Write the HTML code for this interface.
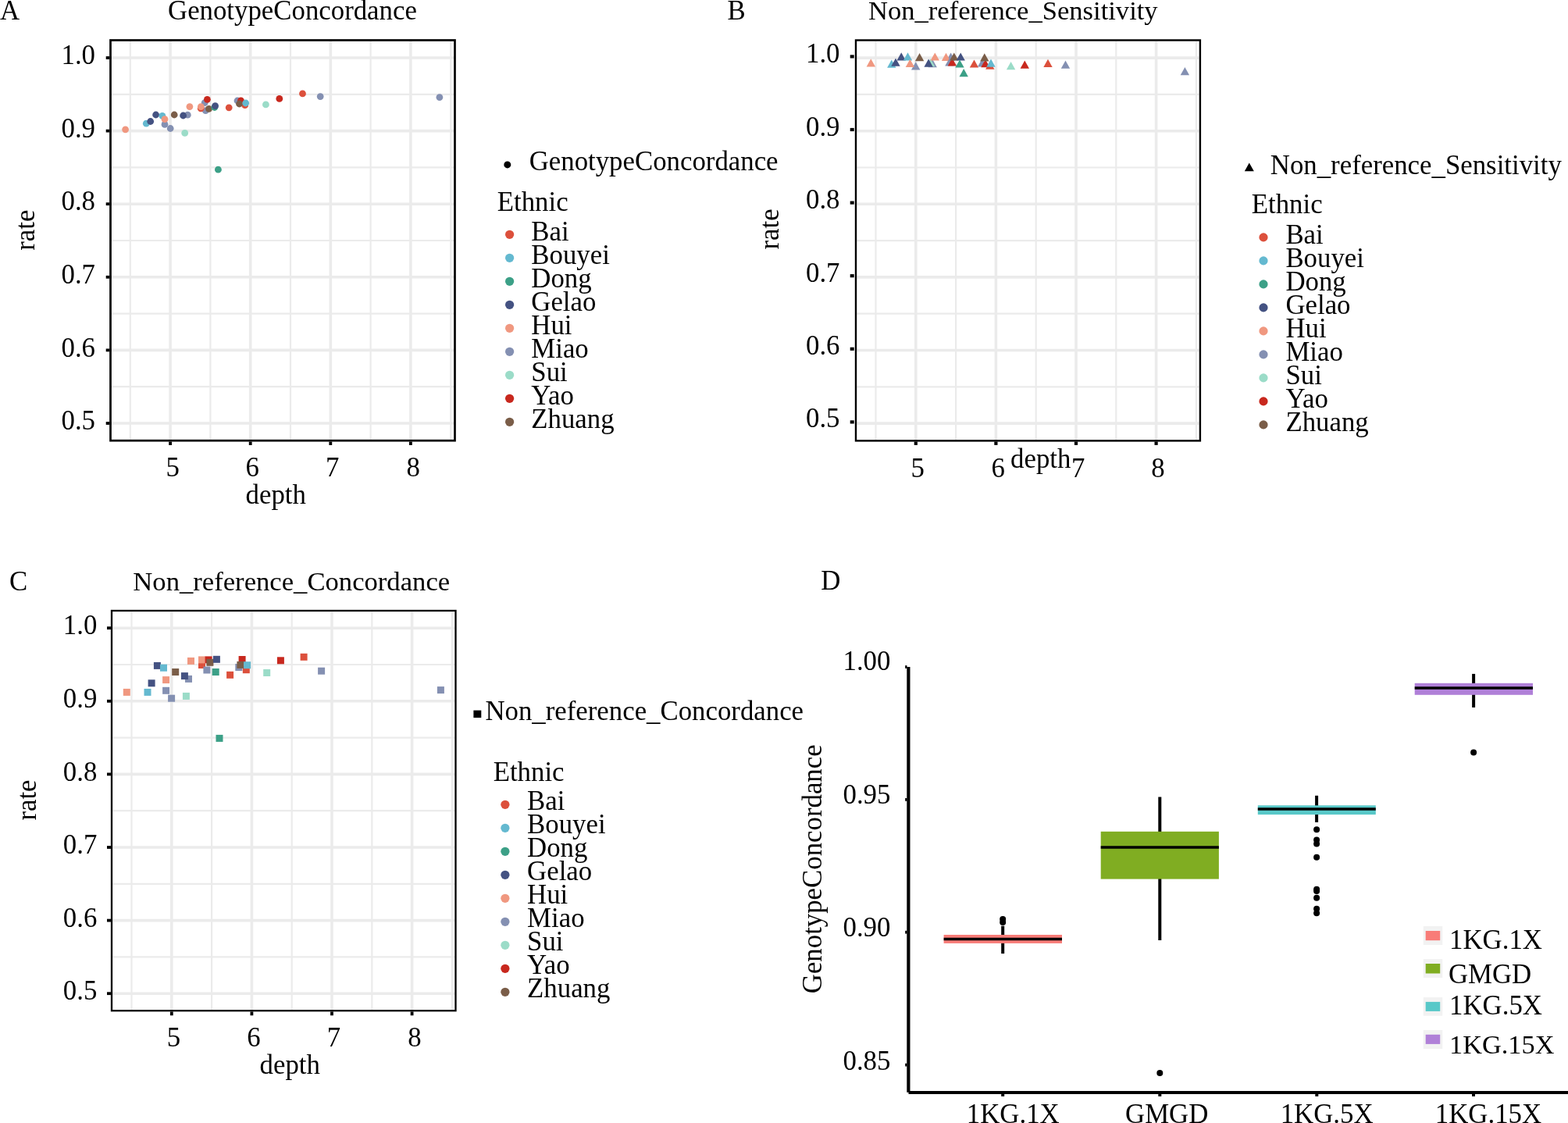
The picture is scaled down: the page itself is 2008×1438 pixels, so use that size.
<!DOCTYPE html><html><head><meta charset="utf-8"><title>Figure</title>
<style>html,body{margin:0;padding:0;background:#fff;overflow:hidden}svg{display:block}text{font-family:'Liberation Serif', 'Times New Roman', serif;font-size:34.8px;fill:#000}</style></head><body>
<svg width="2008" height="1438" viewBox="0 0 2008 1438">
<rect width="2008" height="1438" fill="#fff"/>
<line x1="166.80" y1="52.90" x2="166.80" y2="562.80" stroke="#EBEBEB" stroke-width="2.2" stroke-linecap="butt"/>
<line x1="269.40" y1="52.90" x2="269.40" y2="562.80" stroke="#EBEBEB" stroke-width="2.2" stroke-linecap="butt"/>
<line x1="372.00" y1="52.90" x2="372.00" y2="562.80" stroke="#EBEBEB" stroke-width="2.2" stroke-linecap="butt"/>
<line x1="474.60" y1="52.90" x2="474.60" y2="562.80" stroke="#EBEBEB" stroke-width="2.2" stroke-linecap="butt"/>
<line x1="577.20" y1="52.90" x2="577.20" y2="562.80" stroke="#EBEBEB" stroke-width="2.2" stroke-linecap="butt"/>
<line x1="142.90" y1="120.80" x2="581.10" y2="120.80" stroke="#EBEBEB" stroke-width="2.2" stroke-linecap="butt"/>
<line x1="142.90" y1="214.40" x2="581.10" y2="214.40" stroke="#EBEBEB" stroke-width="2.2" stroke-linecap="butt"/>
<line x1="142.90" y1="308.00" x2="581.10" y2="308.00" stroke="#EBEBEB" stroke-width="2.2" stroke-linecap="butt"/>
<line x1="142.90" y1="401.60" x2="581.10" y2="401.60" stroke="#EBEBEB" stroke-width="2.2" stroke-linecap="butt"/>
<line x1="142.90" y1="495.20" x2="581.10" y2="495.20" stroke="#EBEBEB" stroke-width="2.2" stroke-linecap="butt"/>
<line x1="218.10" y1="52.90" x2="218.10" y2="562.80" stroke="#EBEBEB" stroke-width="3.6" stroke-linecap="butt"/>
<line x1="320.70" y1="52.90" x2="320.70" y2="562.80" stroke="#EBEBEB" stroke-width="3.6" stroke-linecap="butt"/>
<line x1="423.30" y1="52.90" x2="423.30" y2="562.80" stroke="#EBEBEB" stroke-width="3.6" stroke-linecap="butt"/>
<line x1="525.90" y1="52.90" x2="525.90" y2="562.80" stroke="#EBEBEB" stroke-width="3.6" stroke-linecap="butt"/>
<line x1="142.90" y1="74.00" x2="581.10" y2="74.00" stroke="#EBEBEB" stroke-width="3.6" stroke-linecap="butt"/>
<line x1="142.90" y1="167.60" x2="581.10" y2="167.60" stroke="#EBEBEB" stroke-width="3.6" stroke-linecap="butt"/>
<line x1="142.90" y1="261.20" x2="581.10" y2="261.20" stroke="#EBEBEB" stroke-width="3.6" stroke-linecap="butt"/>
<line x1="142.90" y1="354.80" x2="581.10" y2="354.80" stroke="#EBEBEB" stroke-width="3.6" stroke-linecap="butt"/>
<line x1="142.90" y1="448.40" x2="581.10" y2="448.40" stroke="#EBEBEB" stroke-width="3.6" stroke-linecap="butt"/>
<line x1="142.90" y1="542.00" x2="581.10" y2="542.00" stroke="#EBEBEB" stroke-width="3.6" stroke-linecap="butt"/>
<circle cx="160.60" cy="165.80" r="4.4" fill="#F09880"/>
<circle cx="187.30" cy="158.20" r="4.4" fill="#64B9D0"/>
<circle cx="192.70" cy="155.50" r="4.4" fill="#445282"/>
<circle cx="199.60" cy="147.00" r="4.4" fill="#445282"/>
<circle cx="207.90" cy="148.30" r="4.4" fill="#64B9D0"/>
<circle cx="211.00" cy="159.40" r="4.4" fill="#8490B2"/>
<circle cx="211.00" cy="152.70" r="4.4" fill="#F09880"/>
<circle cx="218.20" cy="164.50" r="4.4" fill="#8490B2"/>
<circle cx="223.20" cy="147.00" r="4.4" fill="#7A5D48"/>
<circle cx="240.30" cy="147.20" r="4.4" fill="#8490B2"/>
<circle cx="234.60" cy="148.00" r="4.4" fill="#445282"/>
<circle cx="236.70" cy="170.40" r="4.4" fill="#9BDCC8"/>
<circle cx="242.90" cy="136.60" r="4.4" fill="#F09880"/>
<circle cx="262.20" cy="131.60" r="4.4" fill="#8490B2"/>
<circle cx="263.30" cy="141.70" r="4.4" fill="#8490B2"/>
<circle cx="257.20" cy="138.80" r="4.4" fill="#DC503C"/>
<circle cx="257.30" cy="136.70" r="4.4" fill="#F09880"/>
<circle cx="265.40" cy="127.30" r="4.4" fill="#C8281E"/>
<circle cx="267.50" cy="139.40" r="4.4" fill="#7A5D48"/>
<circle cx="274.80" cy="137.50" r="4.4" fill="#3CA087"/>
<circle cx="275.60" cy="135.70" r="4.4" fill="#445282"/>
<circle cx="293.20" cy="137.80" r="4.4" fill="#DC503C"/>
<circle cx="304.00" cy="129.00" r="4.4" fill="#8490B2"/>
<circle cx="308.50" cy="128.80" r="4.4" fill="#C8281E"/>
<circle cx="313.70" cy="134.70" r="4.4" fill="#DC503C"/>
<circle cx="306.50" cy="133.00" r="4.4" fill="#7A5D48"/>
<circle cx="314.70" cy="132.00" r="4.4" fill="#64B9D0"/>
<circle cx="340.40" cy="133.90" r="4.4" fill="#9BDCC8"/>
<circle cx="357.80" cy="126.40" r="4.4" fill="#C8281E"/>
<circle cx="387.50" cy="119.90" r="4.4" fill="#DC503C"/>
<circle cx="410.20" cy="123.60" r="4.4" fill="#8490B2"/>
<circle cx="562.90" cy="124.60" r="4.4" fill="#8490B2"/>
<circle cx="279.40" cy="217.20" r="4.4" fill="#3CA087"/>
<rect x="141.50" y="51.50" width="441.00" height="512.70" fill="none" stroke="#000" stroke-width="2.7"/>
<line x1="135.70" y1="74.00" x2="140.20" y2="74.00" stroke="#000" stroke-width="3.8" stroke-linecap="butt"/>
<line x1="135.70" y1="167.60" x2="140.20" y2="167.60" stroke="#000" stroke-width="3.8" stroke-linecap="butt"/>
<line x1="135.70" y1="261.20" x2="140.20" y2="261.20" stroke="#000" stroke-width="3.8" stroke-linecap="butt"/>
<line x1="135.70" y1="354.80" x2="140.20" y2="354.80" stroke="#000" stroke-width="3.8" stroke-linecap="butt"/>
<line x1="135.70" y1="448.40" x2="140.20" y2="448.40" stroke="#000" stroke-width="3.8" stroke-linecap="butt"/>
<line x1="135.70" y1="542.00" x2="140.20" y2="542.00" stroke="#000" stroke-width="3.8" stroke-linecap="butt"/>
<line x1="218.10" y1="565.50" x2="218.10" y2="570.00" stroke="#000" stroke-width="3.8" stroke-linecap="butt"/>
<line x1="320.70" y1="565.50" x2="320.70" y2="570.00" stroke="#000" stroke-width="3.8" stroke-linecap="butt"/>
<line x1="423.30" y1="565.50" x2="423.30" y2="570.00" stroke="#000" stroke-width="3.8" stroke-linecap="butt"/>
<line x1="525.90" y1="565.50" x2="525.90" y2="570.00" stroke="#000" stroke-width="3.8" stroke-linecap="butt"/>
<text x="122.0" y="82.2" text-anchor="end">1.0</text>
<text x="122.0" y="175.8" text-anchor="end">0.9</text>
<text x="122.0" y="269.4" text-anchor="end">0.8</text>
<text x="122.0" y="363.0" text-anchor="end">0.7</text>
<text x="122.0" y="456.6" text-anchor="end">0.6</text>
<text x="122.0" y="550.2" text-anchor="end">0.5</text>
<text x="212.5" y="609.8" text-anchor="start">5</text>
<text x="314.6" y="609.8" text-anchor="start">6</text>
<text x="417.0" y="609.8" text-anchor="start">7</text>
<text x="520.6" y="609.8" text-anchor="start">8</text>
<text x="314.6" y="645.0" text-anchor="start">depth</text>
<text x="0.0" y="0.0" text-anchor="middle" transform="translate(44.0,294.7) rotate(-90)">rate</text>
<text x="0.0" y="25.1" text-anchor="start">A</text>
<text x="215.0" y="25.2" text-anchor="start">GenotypeConcordance</text>
<text x="677.7" y="217.8" text-anchor="start">GenotypeConcordance</text>
<text x="636.8" y="270.0" text-anchor="start">Ethnic</text>
<circle cx="652.60" cy="300.30" r="5.6" fill="#DC503C"/>
<text x="680.3" y="307.6" text-anchor="start">Bai</text>
<circle cx="652.60" cy="330.30" r="5.6" fill="#64B9D0"/>
<text x="680.3" y="337.6" text-anchor="start">Bouyei</text>
<circle cx="652.60" cy="360.30" r="5.6" fill="#3CA087"/>
<text x="680.3" y="367.6" text-anchor="start">Dong</text>
<circle cx="652.60" cy="390.30" r="5.6" fill="#445282"/>
<text x="680.3" y="397.6" text-anchor="start">Gelao</text>
<circle cx="652.60" cy="420.30" r="5.6" fill="#F09880"/>
<text x="680.3" y="427.6" text-anchor="start">Hui</text>
<circle cx="652.60" cy="450.30" r="5.6" fill="#8490B2"/>
<text x="680.3" y="457.6" text-anchor="start">Miao</text>
<circle cx="652.60" cy="480.30" r="5.6" fill="#9BDCC8"/>
<text x="680.3" y="487.6" text-anchor="start">Sui</text>
<circle cx="652.60" cy="510.30" r="5.6" fill="#C8281E"/>
<text x="680.3" y="517.6" text-anchor="start">Yao</text>
<circle cx="652.60" cy="540.30" r="5.6" fill="#7A5D48"/>
<text x="680.3" y="547.6" text-anchor="start">Zhuang</text>
<circle cx="649.80" cy="210.90" r="4.5" fill="#000"/>
<line x1="1121.50" y1="52.90" x2="1121.50" y2="563.00" stroke="#EBEBEB" stroke-width="2.2" stroke-linecap="butt"/>
<line x1="1224.10" y1="52.90" x2="1224.10" y2="563.00" stroke="#EBEBEB" stroke-width="2.2" stroke-linecap="butt"/>
<line x1="1326.70" y1="52.90" x2="1326.70" y2="563.00" stroke="#EBEBEB" stroke-width="2.2" stroke-linecap="butt"/>
<line x1="1429.30" y1="52.90" x2="1429.30" y2="563.00" stroke="#EBEBEB" stroke-width="2.2" stroke-linecap="butt"/>
<line x1="1531.90" y1="52.90" x2="1531.90" y2="563.00" stroke="#EBEBEB" stroke-width="2.2" stroke-linecap="butt"/>
<line x1="1097.40" y1="120.90" x2="1535.50" y2="120.90" stroke="#EBEBEB" stroke-width="2.2" stroke-linecap="butt"/>
<line x1="1097.40" y1="214.50" x2="1535.50" y2="214.50" stroke="#EBEBEB" stroke-width="2.2" stroke-linecap="butt"/>
<line x1="1097.40" y1="308.10" x2="1535.50" y2="308.10" stroke="#EBEBEB" stroke-width="2.2" stroke-linecap="butt"/>
<line x1="1097.40" y1="401.70" x2="1535.50" y2="401.70" stroke="#EBEBEB" stroke-width="2.2" stroke-linecap="butt"/>
<line x1="1097.40" y1="495.30" x2="1535.50" y2="495.30" stroke="#EBEBEB" stroke-width="2.2" stroke-linecap="butt"/>
<line x1="1172.80" y1="52.90" x2="1172.80" y2="563.00" stroke="#EBEBEB" stroke-width="3.6" stroke-linecap="butt"/>
<line x1="1275.40" y1="52.90" x2="1275.40" y2="563.00" stroke="#EBEBEB" stroke-width="3.6" stroke-linecap="butt"/>
<line x1="1378.00" y1="52.90" x2="1378.00" y2="563.00" stroke="#EBEBEB" stroke-width="3.6" stroke-linecap="butt"/>
<line x1="1480.60" y1="52.90" x2="1480.60" y2="563.00" stroke="#EBEBEB" stroke-width="3.6" stroke-linecap="butt"/>
<line x1="1097.40" y1="74.10" x2="1535.50" y2="74.10" stroke="#EBEBEB" stroke-width="3.6" stroke-linecap="butt"/>
<line x1="1097.40" y1="167.70" x2="1535.50" y2="167.70" stroke="#EBEBEB" stroke-width="3.6" stroke-linecap="butt"/>
<line x1="1097.40" y1="261.30" x2="1535.50" y2="261.30" stroke="#EBEBEB" stroke-width="3.6" stroke-linecap="butt"/>
<line x1="1097.40" y1="354.90" x2="1535.50" y2="354.90" stroke="#EBEBEB" stroke-width="3.6" stroke-linecap="butt"/>
<line x1="1097.40" y1="448.50" x2="1535.50" y2="448.50" stroke="#EBEBEB" stroke-width="3.6" stroke-linecap="butt"/>
<line x1="1097.40" y1="542.10" x2="1535.50" y2="542.10" stroke="#EBEBEB" stroke-width="3.6" stroke-linecap="butt"/>
<polygon points="1115.30,75.20 1109.60,85.40 1121.00,85.40" fill="#F09880"/>
<polygon points="1141.80,76.50 1136.10,86.70 1147.50,86.70" fill="#64B9D0"/>
<polygon points="1147.00,74.50 1141.30,84.70 1152.70,84.70" fill="#445282"/>
<polygon points="1154.20,67.20 1148.50,77.40 1159.90,77.40" fill="#445282"/>
<polygon points="1162.50,67.20 1156.80,77.40 1168.20,77.40" fill="#64B9D0"/>
<polygon points="1172.70,79.30 1167.00,89.50 1178.40,89.50" fill="#8490B2"/>
<polygon points="1165.40,75.70 1159.70,85.90 1171.10,85.90" fill="#F09880"/>
<polygon points="1177.60,68.00 1171.90,78.20 1183.30,78.20" fill="#7A5D48"/>
<polygon points="1194.20,76.10 1188.50,86.30 1199.90,86.30" fill="#8490B2"/>
<polygon points="1191.60,75.00 1185.90,85.20 1197.30,85.20" fill="#9BDCC8"/>
<polygon points="1189.10,75.50 1183.40,85.70 1194.80,85.70" fill="#445282"/>
<polygon points="1197.30,67.40 1191.60,77.60 1203.00,77.60" fill="#F09880"/>
<polygon points="1217.60,67.50 1211.90,77.70 1223.30,77.70" fill="#8490B2"/>
<polygon points="1211.50,67.70 1205.80,77.90 1217.20,77.90" fill="#F09880"/>
<polygon points="1215.90,74.30 1210.20,84.50 1221.60,84.50" fill="#8490B2"/>
<polygon points="1219.40,74.30 1213.70,84.50 1225.10,84.50" fill="#C8281E"/>
<polygon points="1221.80,67.40 1216.10,77.60 1227.50,77.60" fill="#7A5D48"/>
<polygon points="1230.20,67.40 1224.50,77.60 1235.90,77.60" fill="#445282"/>
<polygon points="1229.00,76.40 1223.30,86.60 1234.70,86.60" fill="#3CA087"/>
<polygon points="1234.20,88.00 1228.50,98.20 1239.90,98.20" fill="#3CA087"/>
<polygon points="1247.50,76.40 1241.80,86.60 1253.20,86.60" fill="#DC503C"/>
<polygon points="1257.70,75.20 1252.00,85.40 1263.40,85.40" fill="#8490B2"/>
<polygon points="1267.80,78.50 1262.10,88.70 1273.50,88.70" fill="#DC503C"/>
<polygon points="1261.90,76.00 1256.20,86.20 1267.60,86.20" fill="#C8281E"/>
<polygon points="1260.80,68.30 1255.10,78.50 1266.50,78.50" fill="#7A5D48"/>
<polygon points="1269.00,75.50 1263.30,85.70 1274.70,85.70" fill="#64B9D0"/>
<polygon points="1294.60,79.10 1288.90,89.30 1300.30,89.30" fill="#9BDCC8"/>
<polygon points="1312.30,77.50 1306.60,87.70 1318.00,87.70" fill="#C8281E"/>
<polygon points="1342.00,75.70 1336.30,85.90 1347.70,85.90" fill="#DC503C"/>
<polygon points="1364.50,77.50 1358.80,87.70 1370.20,87.70" fill="#8490B2"/>
<polygon points="1517.40,86.10 1511.70,96.30 1523.10,96.30" fill="#8490B2"/>
<rect x="1096.00" y="51.50" width="440.90" height="512.90" fill="none" stroke="#000" stroke-width="2.4"/>
<line x1="1088.70" y1="72.40" x2="1093.70" y2="72.40" stroke="#000" stroke-width="4.2" stroke-linecap="butt"/>
<line x1="1088.70" y1="166.00" x2="1093.70" y2="166.00" stroke="#000" stroke-width="4.2" stroke-linecap="butt"/>
<line x1="1088.70" y1="259.60" x2="1093.70" y2="259.60" stroke="#000" stroke-width="4.2" stroke-linecap="butt"/>
<line x1="1088.70" y1="353.20" x2="1093.70" y2="353.20" stroke="#000" stroke-width="4.2" stroke-linecap="butt"/>
<line x1="1088.70" y1="446.80" x2="1093.70" y2="446.80" stroke="#000" stroke-width="4.2" stroke-linecap="butt"/>
<line x1="1088.70" y1="540.40" x2="1093.70" y2="540.40" stroke="#000" stroke-width="4.2" stroke-linecap="butt"/>
<line x1="1172.80" y1="565.50" x2="1172.80" y2="569.90" stroke="#000" stroke-width="4.2" stroke-linecap="butt"/>
<line x1="1275.40" y1="565.50" x2="1275.40" y2="569.90" stroke="#000" stroke-width="4.2" stroke-linecap="butt"/>
<line x1="1378.00" y1="565.50" x2="1378.00" y2="569.90" stroke="#000" stroke-width="4.2" stroke-linecap="butt"/>
<line x1="1480.60" y1="565.50" x2="1480.60" y2="569.90" stroke="#000" stroke-width="4.2" stroke-linecap="butt"/>
<text x="1075.5" y="80.4" text-anchor="end">1.0</text>
<text x="1075.5" y="173.8" text-anchor="end">0.9</text>
<text x="1075.5" y="267.2" text-anchor="end">0.8</text>
<text x="1075.5" y="360.6" text-anchor="end">0.7</text>
<text x="1075.5" y="454.0" text-anchor="end">0.6</text>
<text x="1075.5" y="547.4" text-anchor="end">0.5</text>
<text x="1166.5" y="610.5" text-anchor="start">5</text>
<text x="1269.4" y="610.5" text-anchor="start">6</text>
<text x="1371.9" y="610.5" text-anchor="start">7</text>
<text x="1474.3" y="610.5" text-anchor="start">8</text>
<text x="1294.1" y="599.4" text-anchor="start">depth</text>
<text x="0.0" y="0.0" text-anchor="middle" transform="translate(997.0,293.4) rotate(-90)">rate</text>
<text x="931.4" y="25.3" text-anchor="start">B</text>
<text x="1112.0" y="24.9" text-anchor="start" style="font-size:34.6px">Non_reference_Sensitivity</text>
<text x="1626.8" y="223.0" text-anchor="start">Non_reference_Sensitivity</text>
<text x="1602.8" y="273.2" text-anchor="start">Ethnic</text>
<circle cx="1618.00" cy="303.90" r="5.6" fill="#DC503C"/>
<text x="1646.4" y="311.5" text-anchor="start">Bai</text>
<circle cx="1618.00" cy="333.90" r="5.6" fill="#64B9D0"/>
<text x="1646.4" y="341.5" text-anchor="start">Bouyei</text>
<circle cx="1618.00" cy="363.90" r="5.6" fill="#3CA087"/>
<text x="1646.4" y="371.5" text-anchor="start">Dong</text>
<circle cx="1618.00" cy="393.90" r="5.6" fill="#445282"/>
<text x="1646.4" y="401.5" text-anchor="start">Gelao</text>
<circle cx="1618.00" cy="423.90" r="5.6" fill="#F09880"/>
<text x="1646.4" y="431.5" text-anchor="start">Hui</text>
<circle cx="1618.00" cy="453.90" r="5.6" fill="#8490B2"/>
<text x="1646.4" y="461.5" text-anchor="start">Miao</text>
<circle cx="1618.00" cy="483.90" r="5.6" fill="#9BDCC8"/>
<text x="1646.4" y="491.5" text-anchor="start">Sui</text>
<circle cx="1618.00" cy="513.90" r="5.6" fill="#C8281E"/>
<text x="1646.4" y="521.5" text-anchor="start">Yao</text>
<circle cx="1618.00" cy="543.90" r="5.6" fill="#7A5D48"/>
<text x="1646.4" y="551.5" text-anchor="start">Zhuang</text>
<polygon points="1599.80,208.40 1593.80,219.30 1605.80,219.30" fill="#000"/>
<line x1="168.50" y1="783.40" x2="168.50" y2="1292.80" stroke="#EBEBEB" stroke-width="2.2" stroke-linecap="butt"/>
<line x1="271.10" y1="783.40" x2="271.10" y2="1292.80" stroke="#EBEBEB" stroke-width="2.2" stroke-linecap="butt"/>
<line x1="373.70" y1="783.40" x2="373.70" y2="1292.80" stroke="#EBEBEB" stroke-width="2.2" stroke-linecap="butt"/>
<line x1="476.30" y1="783.40" x2="476.30" y2="1292.80" stroke="#EBEBEB" stroke-width="2.2" stroke-linecap="butt"/>
<line x1="578.90" y1="783.40" x2="578.90" y2="1292.80" stroke="#EBEBEB" stroke-width="2.2" stroke-linecap="butt"/>
<line x1="144.40" y1="851.00" x2="582.10" y2="851.00" stroke="#EBEBEB" stroke-width="2.2" stroke-linecap="butt"/>
<line x1="144.40" y1="944.60" x2="582.10" y2="944.60" stroke="#EBEBEB" stroke-width="2.2" stroke-linecap="butt"/>
<line x1="144.40" y1="1038.20" x2="582.10" y2="1038.20" stroke="#EBEBEB" stroke-width="2.2" stroke-linecap="butt"/>
<line x1="144.40" y1="1131.80" x2="582.10" y2="1131.80" stroke="#EBEBEB" stroke-width="2.2" stroke-linecap="butt"/>
<line x1="144.40" y1="1225.40" x2="582.10" y2="1225.40" stroke="#EBEBEB" stroke-width="2.2" stroke-linecap="butt"/>
<line x1="219.80" y1="783.40" x2="219.80" y2="1292.80" stroke="#EBEBEB" stroke-width="3.6" stroke-linecap="butt"/>
<line x1="322.40" y1="783.40" x2="322.40" y2="1292.80" stroke="#EBEBEB" stroke-width="3.6" stroke-linecap="butt"/>
<line x1="425.00" y1="783.40" x2="425.00" y2="1292.80" stroke="#EBEBEB" stroke-width="3.6" stroke-linecap="butt"/>
<line x1="527.60" y1="783.40" x2="527.60" y2="1292.80" stroke="#EBEBEB" stroke-width="3.6" stroke-linecap="butt"/>
<line x1="144.40" y1="804.20" x2="582.10" y2="804.20" stroke="#EBEBEB" stroke-width="3.6" stroke-linecap="butt"/>
<line x1="144.40" y1="897.80" x2="582.10" y2="897.80" stroke="#EBEBEB" stroke-width="3.6" stroke-linecap="butt"/>
<line x1="144.40" y1="991.40" x2="582.10" y2="991.40" stroke="#EBEBEB" stroke-width="3.6" stroke-linecap="butt"/>
<line x1="144.40" y1="1085.00" x2="582.10" y2="1085.00" stroke="#EBEBEB" stroke-width="3.6" stroke-linecap="butt"/>
<line x1="144.40" y1="1178.60" x2="582.10" y2="1178.60" stroke="#EBEBEB" stroke-width="3.6" stroke-linecap="butt"/>
<line x1="144.40" y1="1272.20" x2="582.10" y2="1272.20" stroke="#EBEBEB" stroke-width="3.6" stroke-linecap="butt"/>
<rect x="157.80" y="881.90" width="9.00" height="9.00" fill="#F09880"/>
<rect x="184.50" y="881.90" width="9.00" height="9.00" fill="#64B9D0"/>
<rect x="189.60" y="870.30" width="9.00" height="9.00" fill="#445282"/>
<rect x="196.90" y="847.90" width="9.00" height="9.00" fill="#445282"/>
<rect x="205.00" y="850.70" width="9.00" height="9.00" fill="#64B9D0"/>
<rect x="208.10" y="866.10" width="9.00" height="9.00" fill="#F09880"/>
<rect x="208.10" y="879.80" width="9.00" height="9.00" fill="#8490B2"/>
<rect x="215.10" y="889.70" width="9.00" height="9.00" fill="#8490B2"/>
<rect x="220.20" y="856.00" width="9.00" height="9.00" fill="#7A5D48"/>
<rect x="237.00" y="864.90" width="9.00" height="9.00" fill="#8490B2"/>
<rect x="231.90" y="861.10" width="9.00" height="9.00" fill="#445282"/>
<rect x="233.90" y="886.90" width="9.00" height="9.00" fill="#9BDCC8"/>
<rect x="240.00" y="841.90" width="9.00" height="9.00" fill="#F09880"/>
<rect x="254.00" y="847.00" width="9.00" height="9.00" fill="#DC503C"/>
<rect x="254.00" y="840.40" width="9.00" height="9.00" fill="#F09880"/>
<rect x="262.60" y="840.40" width="9.00" height="9.00" fill="#C8281E"/>
<rect x="260.40" y="853.50" width="9.00" height="9.00" fill="#8490B2"/>
<rect x="264.40" y="843.80" width="9.00" height="9.00" fill="#7A5D48"/>
<rect x="272.90" y="839.80" width="9.00" height="9.00" fill="#445282"/>
<rect x="271.70" y="856.00" width="9.00" height="9.00" fill="#3CA087"/>
<rect x="290.10" y="859.80" width="9.00" height="9.00" fill="#DC503C"/>
<rect x="301.30" y="850.00" width="9.00" height="9.00" fill="#8490B2"/>
<rect x="305.60" y="840.00" width="9.00" height="9.00" fill="#C8281E"/>
<rect x="310.80" y="853.20" width="9.00" height="9.00" fill="#DC503C"/>
<rect x="303.40" y="846.90" width="9.00" height="9.00" fill="#7A5D48"/>
<rect x="312.10" y="847.20" width="9.00" height="9.00" fill="#64B9D0"/>
<rect x="337.20" y="857.00" width="9.00" height="9.00" fill="#9BDCC8"/>
<rect x="354.90" y="841.30" width="9.00" height="9.00" fill="#C8281E"/>
<rect x="384.60" y="836.80" width="9.00" height="9.00" fill="#DC503C"/>
<rect x="407.10" y="854.70" width="9.00" height="9.00" fill="#8490B2"/>
<rect x="559.90" y="879.10" width="9.00" height="9.00" fill="#8490B2"/>
<rect x="276.50" y="940.90" width="9.00" height="9.00" fill="#3CA087"/>
<rect x="143.00" y="782.00" width="440.50" height="512.20" fill="none" stroke="#000" stroke-width="2.3"/>
<line x1="137.00" y1="804.20" x2="142.00" y2="804.20" stroke="#000" stroke-width="3.8" stroke-linecap="butt"/>
<line x1="137.00" y1="897.80" x2="142.00" y2="897.80" stroke="#000" stroke-width="3.8" stroke-linecap="butt"/>
<line x1="137.00" y1="991.40" x2="142.00" y2="991.40" stroke="#000" stroke-width="3.8" stroke-linecap="butt"/>
<line x1="137.00" y1="1085.00" x2="142.00" y2="1085.00" stroke="#000" stroke-width="3.8" stroke-linecap="butt"/>
<line x1="137.00" y1="1178.60" x2="142.00" y2="1178.60" stroke="#000" stroke-width="3.8" stroke-linecap="butt"/>
<line x1="137.00" y1="1272.20" x2="142.00" y2="1272.20" stroke="#000" stroke-width="3.8" stroke-linecap="butt"/>
<line x1="219.80" y1="1295.40" x2="219.80" y2="1300.30" stroke="#000" stroke-width="3.8" stroke-linecap="butt"/>
<line x1="322.40" y1="1295.40" x2="322.40" y2="1300.30" stroke="#000" stroke-width="3.8" stroke-linecap="butt"/>
<line x1="425.00" y1="1295.40" x2="425.00" y2="1300.30" stroke="#000" stroke-width="3.8" stroke-linecap="butt"/>
<line x1="527.60" y1="1295.40" x2="527.60" y2="1300.30" stroke="#000" stroke-width="3.8" stroke-linecap="butt"/>
<text x="124.3" y="812.3" text-anchor="end">1.0</text>
<text x="124.3" y="905.9" text-anchor="end">0.9</text>
<text x="124.3" y="999.5" text-anchor="end">0.8</text>
<text x="124.3" y="1093.1" text-anchor="end">0.7</text>
<text x="124.3" y="1186.7" text-anchor="end">0.6</text>
<text x="124.3" y="1280.3" text-anchor="end">0.5</text>
<text x="213.8" y="1340.1" text-anchor="start">5</text>
<text x="316.3" y="1340.1" text-anchor="start">6</text>
<text x="418.8" y="1340.1" text-anchor="start">7</text>
<text x="522.3" y="1340.1" text-anchor="start">8</text>
<text x="332.6" y="1375.2" text-anchor="start">depth</text>
<text x="0.0" y="0.0" text-anchor="middle" transform="translate(46.0,1024.5) rotate(-90)">rate</text>
<text x="12.0" y="756.1" text-anchor="start">C</text>
<text x="170.3" y="755.5" text-anchor="start" style="font-size:34.65px">Non_reference_Concordance</text>
<text x="621.4" y="922.1" text-anchor="start">Non_reference_Concordance</text>
<text x="631.7" y="1000.1" text-anchor="start">Ethnic</text>
<circle cx="646.90" cy="1030.30" r="5.6" fill="#DC503C"/>
<text x="675.1" y="1037.3" text-anchor="start">Bai</text>
<circle cx="646.90" cy="1060.30" r="5.6" fill="#64B9D0"/>
<text x="675.1" y="1067.3" text-anchor="start">Bouyei</text>
<circle cx="646.90" cy="1090.30" r="5.6" fill="#3CA087"/>
<text x="675.1" y="1097.3" text-anchor="start">Dong</text>
<circle cx="646.90" cy="1120.30" r="5.6" fill="#445282"/>
<text x="675.1" y="1127.3" text-anchor="start">Gelao</text>
<circle cx="646.90" cy="1150.30" r="5.6" fill="#F09880"/>
<text x="675.1" y="1157.3" text-anchor="start">Hui</text>
<circle cx="646.90" cy="1180.30" r="5.6" fill="#8490B2"/>
<text x="675.1" y="1187.3" text-anchor="start">Miao</text>
<circle cx="646.90" cy="1210.30" r="5.6" fill="#9BDCC8"/>
<text x="675.1" y="1217.3" text-anchor="start">Sui</text>
<circle cx="646.90" cy="1240.30" r="5.6" fill="#C8281E"/>
<text x="675.1" y="1247.3" text-anchor="start">Yao</text>
<circle cx="646.90" cy="1270.30" r="5.6" fill="#7A5D48"/>
<text x="675.1" y="1277.3" text-anchor="start">Zhuang</text>
<rect x="606.40" y="909.60" width="9.90" height="9.40" fill="#000"/>
<text x="1051.3" y="755.0" text-anchor="start">D</text>
<line x1="1284.20" y1="1185.70" x2="1284.20" y2="1221.10" stroke="#000" stroke-width="4.0" stroke-linecap="butt"/>
<rect x="1208.60" y="1197.00" width="151.40" height="10.90" fill="#F87C78"/>
<line x1="1208.60" y1="1202.60" x2="1360.00" y2="1202.60" stroke="#000" stroke-width="3.5" stroke-linecap="butt"/>
<circle cx="1284.20" cy="1177.00" r="4.0" fill="#000"/>
<circle cx="1284.20" cy="1181.10" r="4.0" fill="#000"/>
<line x1="1485.30" y1="1020.50" x2="1485.30" y2="1204.10" stroke="#000" stroke-width="4.0" stroke-linecap="butt"/>
<rect x="1409.70" y="1064.80" width="151.20" height="60.80" fill="#80AD22"/>
<line x1="1409.70" y1="1085.10" x2="1560.90" y2="1085.10" stroke="#000" stroke-width="3.5" stroke-linecap="butt"/>
<circle cx="1485.30" cy="1374.00" r="4.0" fill="#000"/>
<line x1="1686.10" y1="1018.80" x2="1686.10" y2="1052.90" stroke="#000" stroke-width="4.0" stroke-linecap="butt"/>
<rect x="1610.80" y="1031.30" width="151.00" height="11.80" fill="#58C8C8"/>
<line x1="1610.80" y1="1036.00" x2="1761.80" y2="1036.00" stroke="#000" stroke-width="3.5" stroke-linecap="butt"/>
<circle cx="1686.10" cy="1062.20" r="4.0" fill="#000"/>
<circle cx="1686.10" cy="1075.50" r="4.0" fill="#000"/>
<circle cx="1686.10" cy="1080.40" r="4.0" fill="#000"/>
<circle cx="1686.10" cy="1097.80" r="4.0" fill="#000"/>
<circle cx="1686.10" cy="1138.70" r="4.0" fill="#000"/>
<circle cx="1686.10" cy="1140.90" r="4.0" fill="#000"/>
<circle cx="1686.10" cy="1149.80" r="4.0" fill="#000"/>
<circle cx="1686.10" cy="1163.70" r="4.0" fill="#000"/>
<circle cx="1686.10" cy="1169.30" r="4.0" fill="#000"/>
<line x1="1887.10" y1="862.90" x2="1887.10" y2="905.90" stroke="#000" stroke-width="4.0" stroke-linecap="butt"/>
<rect x="1811.70" y="874.80" width="151.30" height="15.00" fill="#B080D8"/>
<line x1="1811.70" y1="881.00" x2="1963.00" y2="881.00" stroke="#000" stroke-width="3.5" stroke-linecap="butt"/>
<circle cx="1887.10" cy="963.40" r="4.0" fill="#000"/>
<line x1="1163.40" y1="854.00" x2="1163.40" y2="1398.70" stroke="#000" stroke-width="4.2" stroke-linecap="butt"/>
<line x1="1163.50" y1="1399.00" x2="2008.00" y2="1399.00" stroke="#000" stroke-width="4.0" stroke-linecap="butt"/>
<line x1="1159.20" y1="854.00" x2="1161.50" y2="854.00" stroke="#000" stroke-width="3.8" stroke-linecap="butt"/>
<line x1="1159.20" y1="1023.90" x2="1161.50" y2="1023.90" stroke="#000" stroke-width="3.8" stroke-linecap="butt"/>
<line x1="1159.20" y1="1193.70" x2="1161.50" y2="1193.70" stroke="#000" stroke-width="3.8" stroke-linecap="butt"/>
<line x1="1159.20" y1="1363.60" x2="1161.50" y2="1363.60" stroke="#000" stroke-width="3.8" stroke-linecap="butt"/>
<line x1="1284.20" y1="1400.50" x2="1284.20" y2="1403.90" stroke="#000" stroke-width="4.0" stroke-linecap="butt"/>
<line x1="1485.30" y1="1400.50" x2="1485.30" y2="1403.90" stroke="#000" stroke-width="4.0" stroke-linecap="butt"/>
<line x1="1686.30" y1="1400.50" x2="1686.30" y2="1403.90" stroke="#000" stroke-width="4.0" stroke-linecap="butt"/>
<line x1="1887.00" y1="1400.50" x2="1887.00" y2="1403.90" stroke="#000" stroke-width="4.0" stroke-linecap="butt"/>
<text x="1140.4" y="858.0" text-anchor="end">1.00</text>
<text x="1140.4" y="1028.9" text-anchor="end">0.95</text>
<text x="1140.4" y="1199.3" text-anchor="end">0.90</text>
<text x="1140.4" y="1370.1" text-anchor="end">0.85</text>
<text x="1237.8" y="1438.0" text-anchor="start">1KG.1X</text>
<text x="1441.0" y="1438.0" text-anchor="start">GMGD</text>
<text x="1639.7" y="1438.0" text-anchor="start">1KG.5X</text>
<text x="1837.8" y="1438.0" text-anchor="start">1KG.15X</text>
<text x="0.0" y="0.0" text-anchor="middle" transform="translate(1051.9,1112.8) rotate(-90)">GenotypeConcordance</text>
<rect x="1822.70" y="1186.00" width="24.60" height="24.00" fill="#F2F2F2"/>
<rect x="1825.70" y="1192.00" width="18.50" height="12.20" fill="#F87C78"/>
<text x="1856.1" y="1215.2" text-anchor="start">1KG.1X</text>
<rect x="1822.70" y="1228.10" width="24.60" height="23.90" fill="#F2F2F2"/>
<rect x="1825.70" y="1234.00" width="18.50" height="12.50" fill="#80AD22"/>
<text x="1854.9" y="1259.0" text-anchor="start">GMGD</text>
<rect x="1822.70" y="1277.10" width="24.60" height="23.60" fill="#F2F2F2"/>
<rect x="1825.70" y="1282.90" width="18.50" height="12.00" fill="#58C8C8"/>
<text x="1856.1" y="1299.3" text-anchor="start">1KG.5X</text>
<rect x="1822.70" y="1319.00" width="24.60" height="24.10" fill="#F2F2F2"/>
<rect x="1825.70" y="1324.80" width="18.50" height="12.10" fill="#B080D8"/>
<text x="1856.1" y="1349.1" text-anchor="start" style="font-size:34.3px">1KG.15X</text>
</svg></body></html>
